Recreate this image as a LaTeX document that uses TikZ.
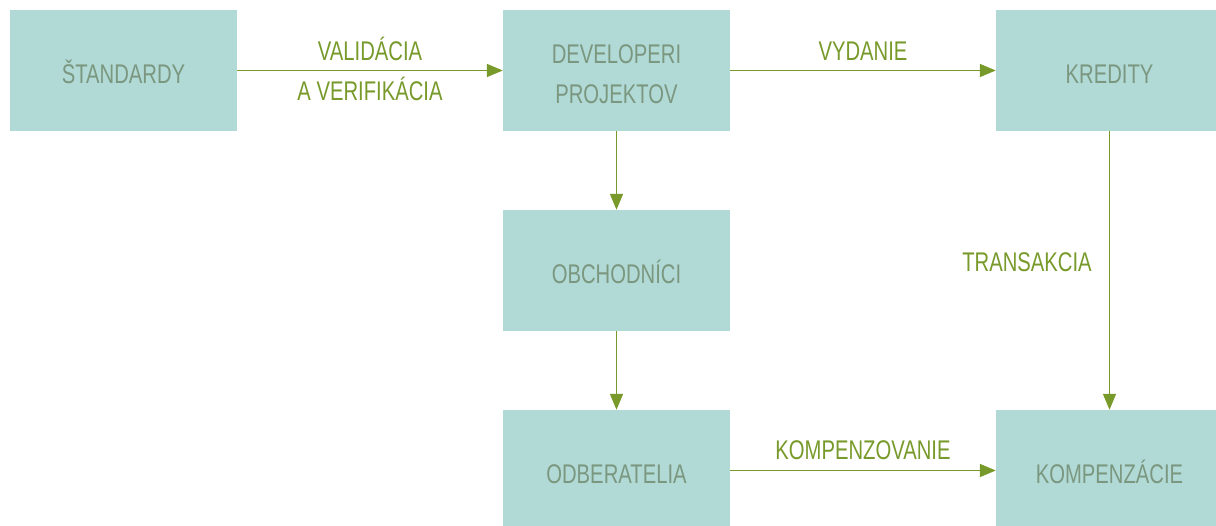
\documentclass[tikz,border=0pt]{standalone}
\usepackage{fontspec}
\setmainfont{Liberation Sans}[FakeStretch=0.75]
\usetikzlibrary{arrows.meta}
\definecolor{boxfill}{HTML}{B1DAD7}
\definecolor{boxtext}{HTML}{7B977F}
\definecolor{leaf}{HTML}{789A2B}
\begin{document}
\begin{tikzpicture}[x=1pt,y=-1pt,
  boxbase/.style={fill=boxfill, minimum width=227pt, minimum height=121pt, inner sep=0pt,
    text=boxtext, font=\fontsize{27}{40.5}\selectfont},
  box/.style={boxbase, text height=26.3pt, text depth=0pt},
  boxtwo/.style={boxbase, align=center, text height=66.8pt, text depth=0pt},
  lbl/.style={text=leaf, font=\fontsize{27}{40.5}\selectfont, inner sep=0pt,
    text height=19.3pt, text depth=0pt},
  arr/.style={draw=leaf, line width=1.6pt, -{Triangle[length=16pt,width=13pt]}}]
\useasboundingbox (0,0) rectangle (1216,526);
\clip (0,0) rectangle (1216,526);
\node[box] (std) at (123.5,70.5) {ŠTANDARDY};
\node[boxtwo] (dev) at (616.5,70.5) {DEVELOPERI\\PROJEKTOV};
\node[box] (kred) at (1109.5,70.5) {KREDITY};
\node[box] (obch) at (616.5,270.5) {OBCHODNÍCI};
\node[box] (odb) at (616.5,470.5) {ODBERATELIA};
\node[box] (komp) at (1109.5,470.5) {KOMPENZÁCIE};
\draw[arr] (std) -- node[lbl, yshift=19.5pt] (l1) {VALIDÁCIA}
  node[lbl, yshift=-20.5pt] (l2) {A VERIFIKÁCIA} (dev);
\draw[arr] (dev) -- node[lbl, yshift=20pt] (l3) {VYDANIE} (kred);
\draw[arr] (dev) -- (obch);
\draw[arr] (obch) -- (odb);
\draw[arr] (kred) -- node[lbl, xshift=-82.5pt, yshift=9pt] (l4) {TRANSAKCIA} (komp);
\draw[arr] (odb) -- node[lbl, yshift=21pt] (l5) {KOMPENZOVANIE} (komp);
\end{tikzpicture}
\end{document}
